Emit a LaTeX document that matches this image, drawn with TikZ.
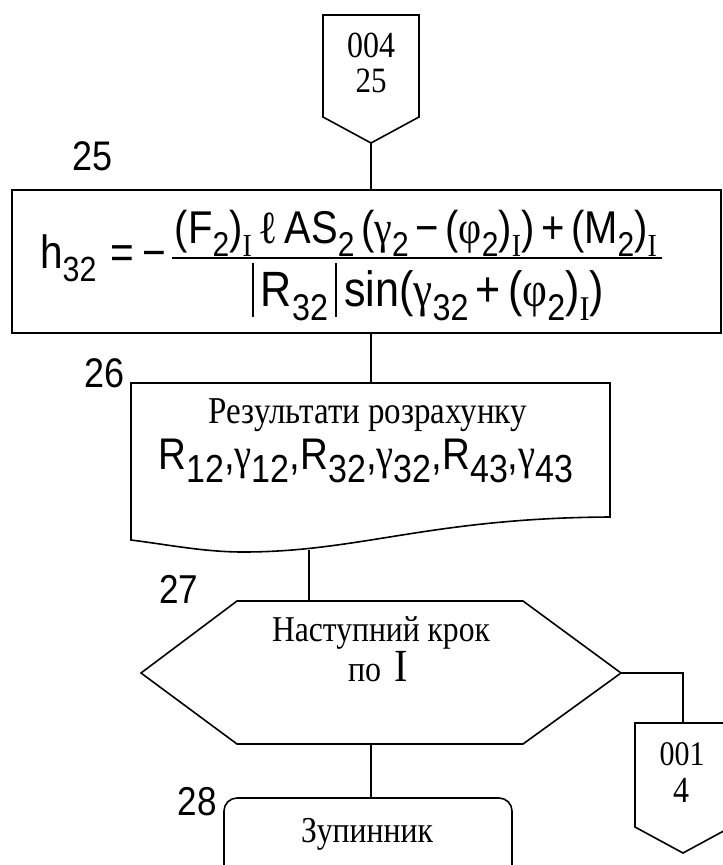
\documentclass[tikz,border=0pt]{standalone}
\usepackage{fontspec}
\usepackage{graphicx}
\setmainfont{Liberation Sans}
\newfontfamily\tnr{Liberation Serif}

% sizes (1pt = 1 unit of the picture)
\newcommand\fs[1]{\fontsize{#1}{#1}\selectfont}
\newcommand\ssub[1]{\raisebox{-0.3em}{\fs{30}#1}}
\newcommand\Isub{\raisebox{-0.3em}{\fs{28}\tnr I}}
\newcommand\gr[1]{{\tnr #1}}
\newcommand\vbar{\rule[-0.22em]{1.6pt}{1.08em}}
% set a text to a given width, slightly taller than its natural shape
\newcommand\fitw[2]{\scalebox{1}[1.15]{\resizebox{#1}{!}{#2}}}

\tikzset{
  flow/.style={line width=1.6pt, line join=miter},
  wire/.style={line width=1.6pt},
  txt/.style={inner sep=0pt, anchor=base},
  num/.style={txt, font=\fs{36}},
  ser/.style={txt, font=\tnr\fs{32}},
  con/.style={txt, font=\tnr\fs{32}},
}

\begin{document}
\begin{tikzpicture}[x=1pt,y=-1pt]
\useasboundingbox (0,0) rectangle (723,865);
\clip (0,0) rectangle (723,865);

% ---- off-page connector 004/25
\draw[flow] (323,15) -- (419,15) -- (419,117) -- (371,143) -- (323,117) -- cycle;
\coordinate (c1tip) at (371,143);
\node[con] (c1a) at (371,57) {\fitw{48pt}{004}};
\node[con] (c1b) at (371,92) {\fitw{31pt}{25}};

% ---- block 25: process
\draw[flow] (12,190) rectangle (721,333);
\coordinate (b25top) at (371,190);
\coordinate (b25bot) at (371,333);
\node[num, anchor=base east] (l25) at (113,170) {\fitw{40pt}{25}};

\node[txt, anchor=base west, font=\fs{40}] (lhs) at (40,268)
  {\fitw{126pt}{h\ssub{32}\hspace{14pt}=\hspace{8pt}−}};
\node[txt, font=\fs{40}] (numer) at (416,243)
  {\fitw{482pt}{(F\ssub{2})\Isub\,\gr{ℓ}\,AS\ssub{2}\,(\gr{γ}\ssub{2}\,−\,(\gr{φ}\ssub{2})\Isub)\,+\,(M\ssub{2})\Isub}};
\coordinate (barL) at (172,258);
\coordinate (barR) at (662,258);
\draw[line width=1.2pt] (barL) -- (barR);
\node[txt, font=\fs{40}] (denom) at (428,306)
  {\fitw{352pt}{\vbar\,R\ssub{32}\,\vbar\,sin(\gr{γ}\ssub{32}\,+\,(\gr{φ}\ssub{2})\Isub)}};

% ---- block 26: output document
\draw[flow] (131,383) -- (610,383) -- (610,517)
  .. controls (430,518) and (360,552) .. (243,552)
  .. controls (205,552) and (170,545) .. (131,540) -- cycle;
\coordinate (b26top) at (371,383);
\coordinate (b26bot) at (309,550);
\node[num, anchor=base east] (l26) at (125,387) {\fitw{40pt}{26}};
\node[ser] (t26a) at (368,423) {\fitw{318pt}{Результати розрахунку}};
\node[txt, font=\fs{34}] (t26b) at (366,469)
  {\fitw{415pt}{R\ssub{12},\gr{γ}\ssub{12},R\ssub{32},\gr{γ}\ssub{32},R\ssub{43},\gr{γ}\ssub{43}}};

% ---- block 27: loop limit (hexagon)
\draw[flow] (237,601) -- (523,601) -- (621,673) -- (523,744) -- (237,744) -- (141,673) -- cycle;
\coordinate (b27top) at (309,601);
\coordinate (b27bot) at (371,744);
\coordinate (b27right) at (621,673);
\node[num, anchor=base west] (l27) at (159,603) {\fitw{39pt}{27}};
\node[ser] (t27a) at (381,641) {\fitw{218pt}{Наступний крок}};
\node[ser] (t27b) at (378,681) {\scalebox{1}[1.15]{по\, \fs{40}I}};

% ---- off-page connector 001/4
\coordinate (bend) at (683,673);
\draw[flow] (635,723) -- (731,723) -- (731,827) -- (683,853) -- (635,827) -- cycle;
\coordinate (c2top) at (683,723);
\node[con] (c2a) at (682,765) {\fitw{45pt}{001}};
\node[con] (c2b) at (681,802) {\scalebox{1}[1.15]{4}};

% ---- block 28: terminator
\draw[flow, rounded corners=13pt] (224,798) rectangle (512,905);
\coordinate (b28top) at (371,798);
\node[num, anchor=base east] (l28) at (217,815) {\fitw{39pt}{28}};
\node[ser] (t28) at (367,842) {\fitw{132pt}{Зупинник}};

% ---- connectors
\draw[wire] (c1tip) -- (b25top);
\draw[wire] (b25bot) -- (b26top);
\draw[wire] (b26bot) -- (b27top);
\draw[wire] (b27bot) -- (b28top);
\draw[wire] (b27right) -- (bend) -- (c2top);
\end{tikzpicture}
\end{document}
